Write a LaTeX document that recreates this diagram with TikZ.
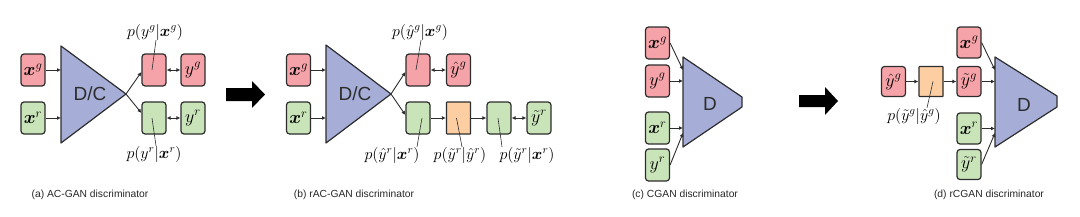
\RequirePackage{fix-cm}
\documentclass[tikz,border=0pt]{standalone}
\usepackage{amsmath,amssymb}
\usepackage{fontspec}
\setsansfont{Liberation Sans}
\usepackage{xcolor}
\usepackage{tikz}
\usetikzlibrary{arrows.meta}
\definecolor{fakepink}{RGB}{245,162,168}
\definecolor{realgreen}{RGB}{200,228,184}
\definecolor{flipgold}{RGB}{252,206,162}
\definecolor{discblue}{RGB}{166,174,216}
\definecolor{edgegray}{RGB}{45,45,45}
\newcommand{\bx}{\boldsymbol{x}}

\begin{document}
\begin{tikzpicture}[x=1pt, y=-1pt,
  every node/.style={font=\fontsize{18}{20}\selectfont},
  box/.style={draw=edgegray, line width=1.2pt, rounded corners=3pt, minimum width=24pt, minimum height=32pt, inner sep=0pt},
  fake/.style={box, fill=fakepink},
  real/.style={box, fill=realgreen},
  flip/.style={box, rounded corners=0.6pt, fill=flipgold},
  disc/.style={draw=edgegray, line width=1.2pt, fill=discblue, line join=round},
  arrow/.style={-{Latex[length=4pt,width=4pt]}, line width=0.9pt, color=edgegray},
  doublearrow/.style={{Latex[length=4pt,width=4pt]}-{Latex[length=4pt,width=4pt]}, line width=0.9pt, color=edgegray},
  pin/.style={line width=0.6pt, color=edgegray},
  prob/.style={inner sep=0pt, font=\fontsize{16}{18}\selectfont},
  dname/.style={font=\sffamily\fontsize{19}{21}\selectfont, color=edgegray},
  caption/.style={font=\sffamily\fontsize{10.3}{12}\selectfont, color=black!85}
]
\useasboundingbox (0,0) rectangle (1080,217);

% (a) AC-GAN
\node[fake] (xgA) at (33,70) {$\bx^g$};
\node[real] (xrA) at (33,118) {$\bx^r$};
\draw[disc] (61,46) coordinate (dA1) -- (126,94) coordinate (dA) -- (61,143) -- cycle;
\node[dname] (dcA) at (90,94) {D/C};
\node[fake] (pgA) at (154,70) {};
\node[real] (prA) at (154,118) {};
\node[fake] (ygA) at (193,70) {$y^g$};
\node[real] (yrA) at (193,118) {$y^r$};
\node[prob] (lgA) at (155,32) {$p(y^g|\bx^g)$};
\node[prob] (lrA) at (154,154) {$p(y^r|\bx^r)$};
\draw[arrow] (xgA) -- (xgA -| dA1);
\draw[arrow] (xrA) -- (xrA -| dA1);
\draw[arrow] (dA) -- ([yshift=-2pt]pgA.west);
\draw[arrow] (dA) -- ([yshift=5pt]prA.west);
\draw[doublearrow] (pgA) -- (ygA);
\draw[doublearrow] (prA) -- (yrA);
\draw[pin] ([xshift=1pt]lgA.south) -- ([xshift=-2pt]pgA.center);
\draw[pin] ([xshift=-2pt]prA.center) -- ([xshift=2pt]lrA.north);

\fill (226,88) -- (252,88) -- (252,81) -- (265,94.5) -- (252,108) -- (252,101) -- (226,101) -- cycle;

% (b) rAC-GAN
\node[fake] (xgB) at (298.5,70) {$\bx^g$};
\node[real] (xrB) at (298.5,118) {$\bx^r$};
\draw[disc] (326,45) coordinate (dB1) -- (391,94) coordinate (dB) -- (326,143) -- cycle;
\node[dname] (dcB) at (355,94) {D/C};
\node[fake] (pgB) at (418,70) {};
\node[fake] (hgB) at (458.5,70) {$\hat{y}^g$};
\node[real] (prB) at (418,118) {};
\node[flip] (orB) at (458.5,118) {};
\node[real] (qrB) at (499,118) {};
\node[real] (trB) at (539,118) {$\tilde{y}^r$};
\node[prob] (lgB) at (420,32) {$p(\hat{y}^g|\bx^g)$};
\node[prob] (lrB) at (392,155) {$p(\hat{y}^r|\bx^r)$};
\node[prob] (loB) at (460,155) {$p(\tilde{y}^r|\hat{y}^r)$};
\node[prob] (lqB) at (527,155) {$p(\tilde{y}^r|\bx^r)$};
\draw[arrow] (xgB) -- (xgB -| dB1);
\draw[arrow] (xrB) -- (xrB -| dB1);
\draw[arrow] (dB) -- ([yshift=-2pt]pgB.west);
\draw[arrow] (dB) -- ([yshift=3pt]prB.west);
\draw[doublearrow] (pgB) -- (hgB);
\draw[arrow] (prB) -- (orB);
\draw[arrow] (orB) -- (qrB);
\draw[doublearrow] (qrB) -- (trB);
\draw[pin] ([xshift=1pt]lgB.south) -- ([xshift=-2pt]pgB.center);
\draw[pin] ([xshift=4pt]prB.center) -- ([xshift=25pt]lrB.north);
\draw[pin] ([xshift=-2pt]orB.center) -- ([xshift=2pt]loB.north);
\draw[pin] ([xshift=-1pt]qrB.center) -- ([xshift=-25pt]lqB.north);

\fill (799,95) -- (825,95) -- (825,87) -- (838,101) -- (825,115) -- (825,107) -- (799,107) -- cycle;

% (c) CGAN
\node[fake] (xgC) at (657.5,43) {$\bx^g$};
\node[fake] (ygC) at (657.5,81) {$y^g$};
\node[real] (xrC) at (657.5,128) {$\bx^r$};
\node[real] (yrC) at (657.5,165) {$y^r$};
\draw[disc] (683,57) coordinate (dC1) -- (742,97) -- (742,107) -- (683,147) -- cycle;
\node[dname] (dC) at (710,104) {D};
\coordinate (inC1) at (683,70);
\coordinate (inC4) at (683,133);
\draw[arrow] (xgC.east) -- (inC1);
\draw[arrow] (ygC) -- (ygC -| dC1);
\draw[arrow] (xrC) -- (xrC -| dC1);
\draw[arrow] (yrC.east) -- (inC4);

% (d) rCGAN
\node[fake, minimum height=30pt] (hgD) at (893.5,81.5) {$\hat{y}^g$};
\node[flip, minimum height=30pt] (orD) at (931,81.5) {};
\node[fake, minimum height=30pt] (tgD) at (969,81.5) {$\tilde{y}^g$};
\node[fake, minimum height=31pt] (xgD) at (969,42.5) {$\bx^g$};
\node[real, minimum height=31pt] (xrD) at (969,128.5) {$\bx^r$};
\node[real, minimum height=30pt] (trD) at (969,164.5) {$\tilde{y}^r$};
\draw[disc] (995,57) coordinate (dD1) -- (1057,96) -- (1057,107) -- (995,147) -- cycle;
\node[dname] (dD) at (1024,105) {D};
\node[prob] (loD) at (914,116) {$p(\tilde{y}^g|\hat{y}^g)$};
\coordinate (inD1) at (995,70);
\coordinate (inD4) at (995,133);
\draw[arrow] (hgD) -- (orD);
\draw[arrow] (orD) -- (tgD);
\draw[arrow] (tgD) -- (tgD -| dD1);
\draw[arrow] (xgD.east) -- (inD1);
\draw[arrow] (xrD) -- (xrD -| dD1);
\draw[arrow] (trD.east) -- (inD4);
\draw[pin] ([xshift=2pt]orD.center) -- ([xshift=13pt]loD.north);

% captions
\node[caption] (capA) at (90,195) {(a) AC-GAN discriminator};
\node[caption] (capB) at (354,195) {(b) rAC-GAN discriminator};
\node[caption] (capC) at (685,195) {(c) CGAN discriminator};
\node[caption] (capD) at (989,195) {(d) rCGAN discriminator};
\end{tikzpicture}
\end{document}
